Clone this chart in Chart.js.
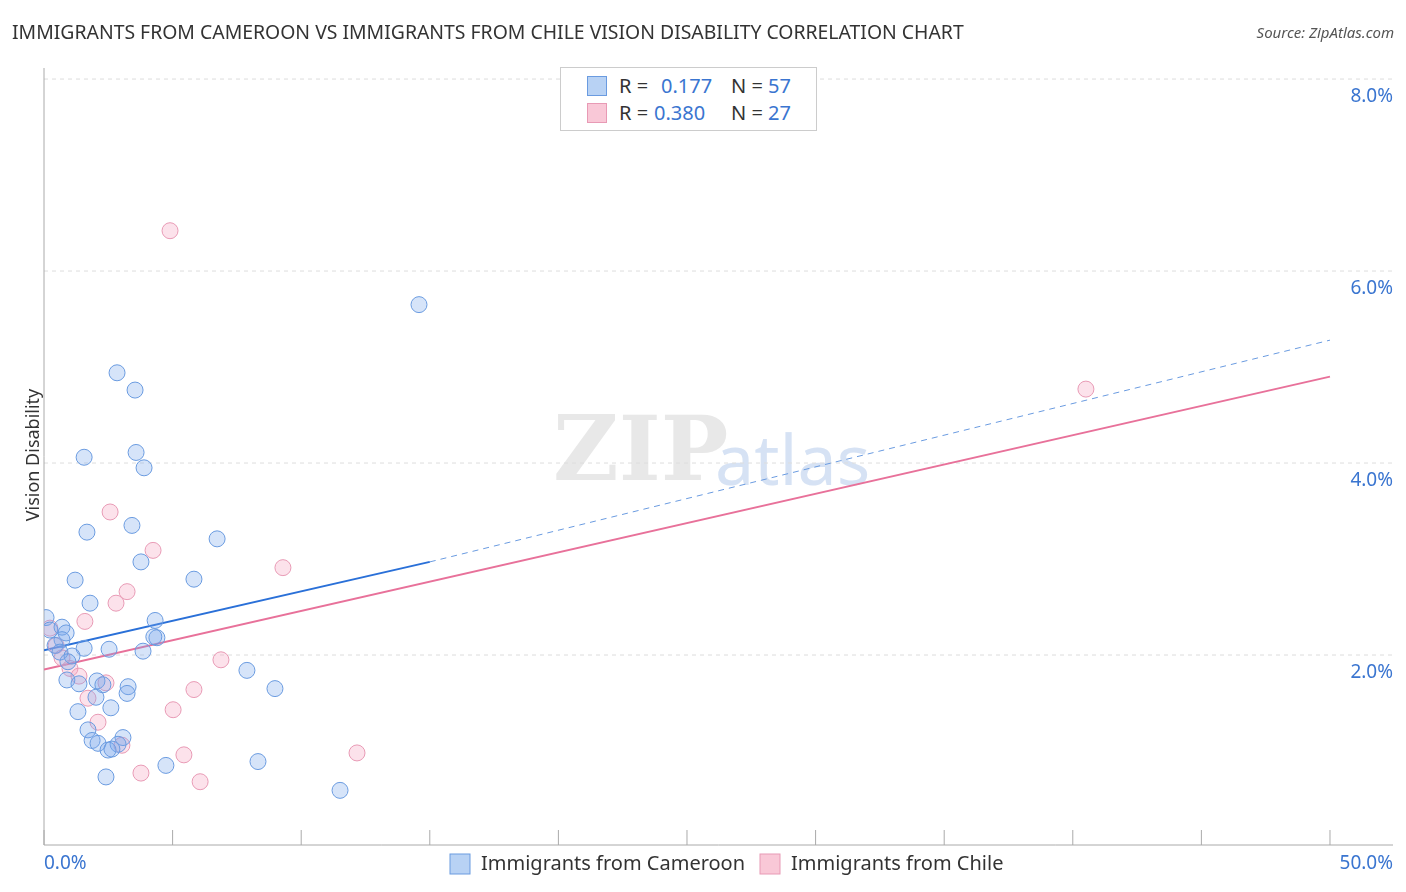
<!DOCTYPE html><html><head><meta charset="utf-8">
<script src="https://cdn.jsdelivr.net/npm/chart.js@4"></script>
<style>body{margin:0;background:#fff;font-family:"Noto Sans",sans-serif}#w{position:relative;width:1406px;height:892px}
.lg{position:absolute;left:560px;top:67px;width:255px;height:62px;border:1px solid #ccc;background:#fff;font-size:20px;color:#333}
.lg span{position:absolute;line-height:24px}.sq{position:absolute;left:26px;width:20px;height:20px;box-sizing:border-box}
.b{color:#3a75d0}</style></head><body><div id="w"><canvas id="c" width="1406" height="892"></canvas>
<div class="lg"><div class="sq" style="top:8px;background:#b8d2f4;border:1px solid #6a9be0"></div><span style="left:58px;top:6px">R =</span><span class="b" style="left:100px;top:6px">0.177</span><span style="left:170px;top:6px">N =</span><span class="b" style="left:207px;top:6px">57</span>
<div class="sq" style="top:35px;background:#f9c8d7;border:1px solid #e89ab5"></div><span style="left:58px;top:33px">R =</span><span class="b" style="left:93px;top:33px">0.380</span><span style="left:170px;top:33px">N =</span><span class="b" style="left:207px;top:33px">27</span></div></div>
<script>
const blueX=[14.58,2.84,3.54,3.58,1.56,3.89,1.67,3.42,6.73,3.77,1.21,5.83,1.79,4.32,0.08,0.23,0.70,0.86,4.39,4.27,0.70,0.43,1.56,2.53,3.85,0.62,1.09,0.93,7.89,0.89,2.06,1.36,2.29,3.27,8.98,3.23,2.02,2.60,1.32,1.71,3.07,1.87,2.10,2.88,2.49,2.64,8.32,4.74,2.41,11.51];
const blueY=[5.65,4.94,4.76,4.11,4.06,3.95,3.28,3.35,3.21,2.97,2.78,2.79,2.54,2.36,2.39,2.26,2.29,2.23,2.18,2.19,2.16,2.10,2.07,2.06,2.04,2.03,1.99,1.93,1.84,1.74,1.73,1.70,1.69,1.67,1.65,1.60,1.56,1.45,1.41,1.22,1.14,1.11,1.08,1.07,1.01,1.02,0.89,0.85,0.73,0.59];
const pinkX=[4.90,40.51,2.57,4.24,9.29,3.23,2.80,1.59,0.23,0.47,0.70,6.88,1.01,1.36,2.41,5.83,1.71,5.02,2.10,3.03,5.44,12.17,3.77,6.07];
const pinkY=[6.42,4.77,3.49,3.09,2.91,2.66,2.54,2.35,2.28,2.10,1.97,1.95,1.86,1.78,1.71,1.64,1.55,1.43,1.30,1.06,0.96,0.98,0.77,0.68];
const blueTrend=[[0,2.05],[15,2.97]], blueDash=[[15,2.97],[50,5.28]], pinkTrend=[[0,1.85],[50,4.90]];
const yTicks=[2,4,6,8], xTicks=[0,5,10,15,20,25,30,35,40,45,50];
const pts=(xs,ys)=>xs.map((x,i)=>({x,y:ys[i]}));const tl=a=>a.map(p=>({x:p[0],y:p[1]}));
const deco={id:'deco',beforeDatasetsDraw(ch){const c=ch.ctx,x=ch.scales.x,y=ch.scales.y,a=ch.chartArea;c.save();
c.font='bold 90px "DejaVu Serif",serif';c.fillStyle='rgba(190,190,190,0.35)';c.textBaseline='middle';c.fillText('ZIP',553,457);
c.font='70px "Noto Sans",sans-serif';c.fillStyle='rgba(120,160,220,0.3)';c.fillText('atlas',715,465);
c.strokeStyle='#ddd';c.setLineDash([4,4]);c.lineWidth=1;yTicks.forEach(t=>{const p=y.getPixelForValue(t);c.beginPath();c.moveTo(a.left,p);c.lineTo(a.right,p);c.stroke();});
c.setLineDash([]);c.strokeStyle='#aaa';c.beginPath();c.moveTo(a.left,a.top);c.lineTo(a.left,845);c.lineTo(a.right,845);c.stroke();
xTicks.forEach(t=>{const p=x.getPixelForValue(t);c.beginPath();c.moveTo(p,830);c.lineTo(p,845);c.stroke();});
c.font='19px "Noto Sans",sans-serif';c.fillStyle='#3a75d0';c.textAlign='right';yTicks.forEach(t=>{c.fillText(t.toFixed(1)+'%',1393,y.getPixelForValue(t)+18);});
c.textAlign='left';c.fillText('0.0%',44,864);c.textAlign='right';c.fillText('50.0%',1393,864);
c.textAlign='left';c.fillStyle='#333';c.font='19.4px "Noto Sans",sans-serif';c.fillText('IMMIGRANTS FROM CAMEROON VS IMMIGRANTS FROM CHILE VISION DISABILITY CORRELATION CHART',12,33);
c.font='italic 15px "Noto Sans",sans-serif';c.textAlign='right';c.fillStyle='#555';c.fillText('Source: ZipAtlas.com',1394,34);
c.font='20px "Noto Sans",sans-serif';c.textAlign='left';
c.fillStyle='#b8d2f4';c.fillRect(450,854,20,20);c.strokeStyle='#6a9be0';c.strokeRect(450,854,20,20);
c.fillStyle='#f9c8d7';c.fillRect(760,854,20,20);c.strokeStyle='#e89ab5';c.strokeRect(760,854,20,20);
c.fillStyle='#333';c.fillText('Immigrants from Cameroon',481,864);c.fillText('Immigrants from Chile',791,864);
c.save();c.translate(34,455);c.rotate(-Math.PI/2);c.textAlign='center';c.font='18px "Noto Sans",sans-serif';c.fillText('Vision Disability',0,0);c.restore();
c.restore();}};
new Chart(document.getElementById('c'),{type:'scatter',data:{datasets:[
{data:pts(blueX,blueY),backgroundColor:'rgba(120,165,235,0.3)',borderColor:'#6a9be0',borderWidth:1,pointRadius:8},
{data:pts(pinkX,pinkY),backgroundColor:'rgba(245,160,190,0.3)',borderColor:'#e89ab5',borderWidth:1,pointRadius:8},
{type:'line',data:tl(blueTrend),borderColor:'#2a70d8',borderWidth:2,pointRadius:0},
{type:'line',data:tl(blueDash),borderColor:'#6a9be0',borderWidth:1,borderDash:[6,5],pointRadius:0},
{type:'line',data:tl(pinkTrend),borderColor:'#e8719a',borderWidth:2,pointRadius:0}]},
options:{responsive:false,animation:false,layout:{padding:{left:44,right:13,top:68,bottom:45}},
plugins:{legend:{display:false},tooltip:{enabled:false}},
scales:{x:{type:'linear',min:0,max:52.45,display:false},y:{min:0,max:8.115,display:false}}},plugins:[deco]});
</script></body></html>
